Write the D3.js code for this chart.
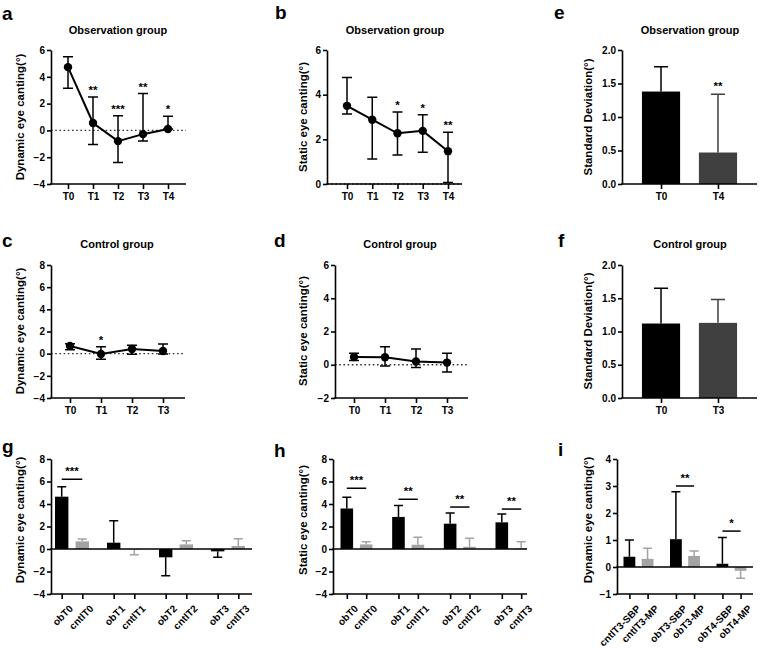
<!DOCTYPE html>
<html><head><meta charset="utf-8">
<script src="https://cdn.jsdelivr.net/npm/d3@7"></script>
<style>
body{margin:0;background:#fff;}
text{font-family:Arial,"Liberation Sans",sans-serif;font-weight:bold;fill:#000;}
</style></head><body>
<svg id="fig" width="760" height="648"></svg>
<script>
// a: observation group, dynamic canting (median + range)
const timesObs = ["T0", "T1", "T2", "T3", "T4"];
const dynObsMid = [4.72, 0.55, -0.8, -0.28, 0.1];
const dynObsLow = [3.15, -1.05, -2.4, -0.8, 0.1];
const dynObsHigh = [5.5, 2.5, 1.1, 2.75, 1.05];
const dynObsStars = ["", "**", "***", "**", "*"];

// b: observation group, static canting
const statObsMid = [3.5, 2.88, 2.27, 2.38, 1.47];
const statObsLow = [3.13, 1.12, 1.3, 1.42, 0.07];
const statObsHigh = [4.77, 3.88, 3.22, 3.1, 2.32];
const statObsStars = ["", "", "*", "*", "**"];

// c: control group, dynamic
const timesCtl = ["T0", "T1", "T2", "T3"];
const dynCtlMid = [0.7, -0.03, 0.42, 0.24];
const dynCtlLow = [0.35, -0.5, -0.05, -0.03];
const dynCtlHigh = [0.9, 0.62, 0.75, 0.87];
const dynCtlStars = ["", "*", "", ""];

// d: control group, static
const statCtlMid = [0.47, 0.45, 0.2, 0.13];
const statCtlLow = [0.25, -0.08, -0.16, -0.43];
const statCtlHigh = [0.69, 1.08, 0.95, 0.69];

// e / f: standard deviation
const sdObsCats = ["T0", "T4"];
const sdObsVals = [1.38, 0.47];
const sdObsErr = [1.75, 1.34];
const sdObsStars = ["", "**"];
const sdCtlCats = ["T0", "T3"];
const sdCtlVals = [1.12, 1.13];
const sdCtlErr = [1.65, 1.48];

// g: dynamic, observation vs control
const gLabels = ["obT0", "cntlT0", "obT1", "cntlT1", "obT2", "cntlT2", "obT3", "cntlT3"];
const gVals = [4.65, 0.68, 0.56, -0.04, -0.74, 0.41, -0.21, 0.27];
const gErr = [5.54, 0.89, 2.52, -0.52, -2.37, 0.74, -0.74, 0.92];
const gSig = [{a: "obT0", b: "cntlT0", y: 6.2, s: "***"}];

// h: static, observation vs control
const hLabels = ["obT0", "cntlT0", "obT1", "cntlT1", "obT2", "cntlT2", "obT3", "cntlT3"];
const hVals = [3.6, 0.41, 2.85, 0.38, 2.25, 0.2, 2.37, 0.06];
const hErr = [4.6, 0.65, 3.87, 1.05, 3.2, 0.95, 3.11, 0.65];
const hSig = [
  {a: "obT0", b: "cntlT0", y: 5.4, s: "***"},
  {a: "obT1", b: "cntlT1", y: 4.42, s: "**"},
  {a: "obT2", b: "cntlT2", y: 3.73, s: "**"},
  {a: "obT3", b: "cntlT3", y: 3.55, s: "**"}
];

// i: dynamic, SBP vs MP
const iLabels = ["cntlT3-SBP", "cntlT3-MP", "obT3-SBP", "obT3-MP", "obT4-SBP", "obT4-MP"];
const iVals = [0.38, 0.3, 1.03, 0.41, 0.12, -0.14];
const iErr = [1.0, 0.69, 2.79, 0.59, 1.09, -0.42];
const iSig = [
  {a: "obT3-SBP", b: "obT3-MP", y: 3.0, s: "**"},
  {a: "obT4-SBP", b: "obT4-MP", y: 1.33, s: "*"}
];

const svg = d3.select("#fig");
const SW = 1.6;

function letter(t, x, y) {
  svg.append("text").attr("x", x).attr("y", y).attr("font-size", 19).text(t);
}

function title(t, x, y) {
  svg.append("text").attr("x", x).attr("y", y).attr("text-anchor", "middle")
    .attr("font-size", 11).text(t);
}

function yLabel(t, x, y) {
  svg.append("text").attr("transform", `translate(${x},${y}) rotate(-90)`)
    .attr("text-anchor", "middle").attr("font-size", 11.5).text(t);
}

function yAxis(y, x0, vals, fmt) {
  const g = svg.append("g").attr("transform", `translate(${x0},0)`)
    .call(d3.axisLeft(y).tickValues(vals).tickFormat(fmt).tickSize(4).tickSizeOuter(0).tickPadding(2));
  g.selectAll("path,line").attr("stroke", "#000").attr("stroke-width", SW);
  g.selectAll("text").attr("font-size", 10).attr("font-family", null);
  return g;
}

function xAxisLine(x0, x1, yy) {
  svg.append("line").attr("x1", x0 - SW / 2).attr("x2", x1).attr("y1", yy).attr("y2", yy)
    .attr("stroke", "#000").attr("stroke-width", SW);
}

function xTicks(x, yy, rotate) {
  const g = svg.append("g").attr("transform", `translate(0,${yy})`)
    .call(d3.axisBottom(x).tickSize(5).tickSizeOuter(0).tickPadding(4));
  g.select(".domain").remove();
  g.selectAll("line").attr("stroke", "#000").attr("stroke-width", SW);
  g.selectAll("text").attr("font-size", 10).attr("font-family", null);
  if (rotate) {
    g.selectAll("text").attr("text-anchor", "end").attr("dy", null)
      .attr("transform", "translate(5,9) rotate(-45)");
  }
}

function linePanel(o) {
  const x = d3.scalePoint().domain(o.cats).range(o.xr);
  const y = d3.scaleLinear().domain(o.yd).range([o.yb, o.yt]);
  svg.append("line").attr("x1", o.ax[0]).attr("x2", o.ax[1]).attr("y1", y(0)).attr("y2", y(0))
    .attr("stroke", "#333").attr("stroke-width", 1.3).attr("stroke-dasharray", "1.6,2.6");
  yAxis(y, o.ax[0], d3.range(o.yd[0], o.yd[1] + 0.01, 2), d3.format("d"));
  xAxisLine(o.ax[0], o.ax[1], o.yb);
  xTicks(x, o.yb, false);
  const rows = o.cats.map((c, i) => ({c, m: o.mid[i], lo: o.low[i], hi: o.high[i], s: o.stars ? o.stars[i] : ""}));
  const g = svg.append("g");
  g.selectAll(".eb").data(rows).join("path")
    .attr("d", d => `M${x(d.c)},${y(d.lo)}V${y(d.hi)}M${x(d.c) - 5},${y(d.hi)}h10M${x(d.c) - 5},${y(d.lo)}h10`)
    .attr("stroke", "#000").attr("stroke-width", 1.5).attr("fill", "none");
  g.append("path").datum(rows)
    .attr("d", d3.line().x(d => x(d.c)).y(d => y(d.m)))
    .attr("stroke", "#000").attr("stroke-width", 2).attr("fill", "none");
  g.selectAll("circle").data(rows).join("circle")
    .attr("cx", d => x(d.c)).attr("cy", d => y(d.m)).attr("r", 4.2).attr("fill", "#000");
  g.selectAll(".st").data(rows.filter(d => d.s)).join("text")
    .attr("x", d => x(d.c)).attr("y", d => y(d.hi) - 3).attr("text-anchor", "middle")
    .attr("font-size", 11.5).text(d => d.s);
}

function sdPanel(o) {
  const x = d3.scaleBand().domain(o.cats).range(o.ax).paddingInner(0.33).paddingOuter(0.35);
  const y = d3.scaleLinear().domain([0, 2]).range([o.yb, o.yt]);
  const fills = ["#000", "#404040"];
  const rows = o.cats.map((c, i) => ({c, v: o.vals[i], e: o.err[i], s: o.stars ? o.stars[i] : "", f: fills[i]}));
  svg.selectAll(null).data(rows).join("path")
    .attr("d", d => `M${x(d.c) + x.bandwidth() / 2},${y(d.v)}V${y(d.e)}m-7,0h14`)
    .attr("stroke", d => d.f).attr("stroke-width", 1.5);
  svg.selectAll(null).data(rows).join("rect")
    .attr("x", d => x(d.c)).attr("width", x.bandwidth())
    .attr("y", d => y(d.v)).attr("height", d => y(0) - y(d.v)).attr("fill", d => d.f);
  svg.selectAll(null).data(rows.filter(d => d.s)).join("text")
    .attr("x", d => x(d.c) + x.bandwidth() / 2).attr("y", d => y(d.e) - 4)
    .attr("text-anchor", "middle").attr("font-size", 11.5).text(d => d.s);
  yAxis(y, o.ax[0], d3.range(0, 2.01, 0.5), d3.format(".1f"));
  xAxisLine(o.ax[0], o.ax[1], o.yb);
  const xp = d3.scaleOrdinal().domain(o.cats).range(o.cats.map(c => x(c) + x.bandwidth() / 2));
  xTicks(xp, o.yb, false);
}

function groupPanel(o) {
  const groups = d3.range(o.labels.length / 2);
  const gx = d3.scalePoint().domain(groups).range(o.gr);
  const inner = d3.scaleBand().domain([0, 1]).range([-o.half, o.half]).paddingInner(0.35);
  const pos = o.labels.map((l, i) => gx(Math.floor(i / 2)) + inner(i % 2) + inner.bandwidth() / 2);
  const x = d3.scaleOrdinal().domain(o.labels).range(pos);
  const y = d3.scaleLinear().domain(o.yd).range([o.yb, o.yt]);
  const bw = inner.bandwidth();
  const rows = o.labels.map((l, i) => ({l, v: o.vals[i], e: o.err[i], f: i % 2 ? "#a3a3a3" : "#000"}));
  svg.selectAll(null).data(rows).join("path")
    .attr("d", d => `M${x(d.l)},${y(d.v)}V${y(d.e)}m-4.5,0h9`)
    .attr("stroke", d => d.f).attr("stroke-width", 1.5);
  svg.selectAll(null).data(rows).join("rect")
    .attr("x", d => x(d.l) - bw / 2).attr("width", bw)
    .attr("y", d => Math.min(y(d.v), y(0))).attr("height", d => Math.abs(y(0) - y(d.v)))
    .attr("fill", d => d.f);
  xAxisLine(o.ax[0], o.ax[1], y(0));
  yAxis(y, o.ax[0], d3.range(o.yd[0], o.yd[1] + 0.01, o.step), d3.format("d"));
  xAxisLine(o.ax[0], o.ax[1], o.yb);
  xTicks(x, o.yb, true);
  o.sig.forEach(s => {
    svg.append("line").attr("x1", x(s.a)).attr("x2", x(s.b)).attr("y1", y(s.y)).attr("y2", y(s.y))
      .attr("stroke", "#000").attr("stroke-width", 1.5);
    svg.append("text").attr("x", (x(s.a) + x(s.b)) / 2).attr("y", y(s.y) - 4)
      .attr("text-anchor", "middle").attr("font-size", 11.5).text(s.s);
  });
}

// row 1
letter("a", 2, 20);
title("Observation group", 118, 34);
yLabel("Dynamic eye canting(°)", 24, 117);
linePanel({cats: timesObs, mid: dynObsMid, low: dynObsLow, high: dynObsHigh, stars: dynObsStars,
  xr: [68, 168], ax: [51, 186], yd: [-4, 6], yt: 50, yb: 184});

letter("b", 275, 19);
title("Observation group", 395, 34);
yLabel("Static eye canting(°)", 307, 117);
linePanel({cats: timesObs, mid: statObsMid, low: statObsLow, high: statObsHigh, stars: statObsStars,
  xr: [347, 448], ax: [327, 462], yd: [0, 6], yt: 50, yb: 184});

letter("e", 554, 19);
title("Observation group", 690, 34);
yLabel("Standard Deviation(°)", 592, 117);
sdPanel({cats: sdObsCats, vals: sdObsVals, err: sdObsErr, stars: sdObsStars, ax: [622, 757], yt: 50, yb: 184});

// row 2
letter("c", 2, 247);
title("Control group", 117, 248);
yLabel("Dynamic eye canting(°)", 24, 331);
linePanel({cats: timesCtl, mid: dynCtlMid, low: dynCtlLow, high: dynCtlHigh, stars: dynCtlStars,
  xr: [70, 163], ax: [51, 185], yd: [-4, 8], yt: 265, yb: 398});

letter("d", 274, 247);
title("Control group", 400, 248);
yLabel("Static eye canting(°)", 307, 331);
linePanel({cats: timesCtl, mid: statCtlMid, low: statCtlLow, high: statCtlHigh,
  xr: [354, 447], ax: [335, 468], yd: [-2, 6], yt: 265, yb: 398});

letter("f", 558, 247);
title("Control group", 690, 248);
yLabel("Standard Deviation(°)", 592, 331);
sdPanel({cats: sdCtlCats, vals: sdCtlVals, err: sdCtlErr, ax: [622, 757], yt: 265, yb: 398});

// row 3
letter("g", 2, 453);
yLabel("Dynamic eye canting(°)", 24, 520);
groupPanel({labels: gLabels, vals: gVals, err: gErr, sig: gSig, gr: [72, 228], half: 17,
  ax: [51, 252], yd: [-4, 8], step: 2, yt: 459, yb: 594});

letter("h", 274, 457);
yLabel("Static eye canting(°)", 307, 520);
groupPanel({labels: hLabels, vals: hVals, err: hErr, sig: hSig, gr: [356.5, 511.5], half: 16,
  ax: [333, 527], yd: [-4, 8], step: 2, yt: 459, yb: 594});

letter("i", 558, 456);
yLabel("Dynamic eye canting(°)", 592, 520);
groupPanel({labels: iLabels, vals: iVals, err: iErr, sig: iSig, gr: [638.5, 731.5], half: 15,
  ax: [617, 753], yd: [-1, 4], step: 1, yt: 459, yb: 594});
</script>
</body></html>
